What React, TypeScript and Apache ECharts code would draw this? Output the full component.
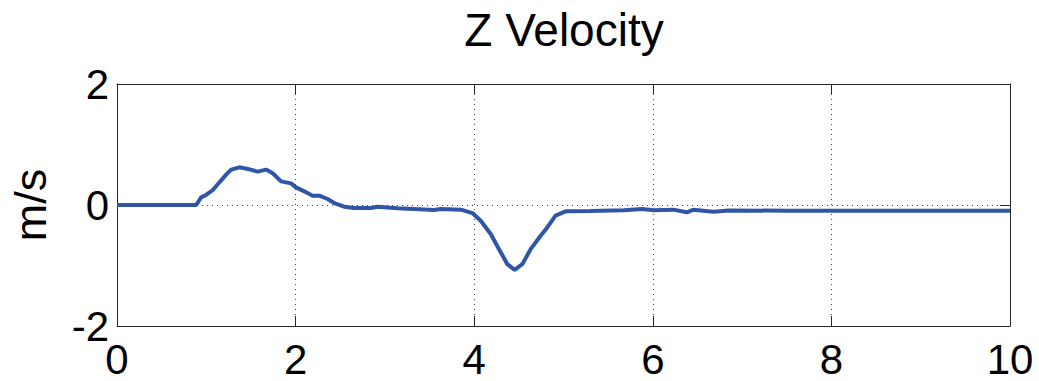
import React, { useEffect, useRef } from "react";
import * as echarts from "echarts";

const titleText = "Z Velocity";
const yAxisLabel = "m/s";
const xTicks = [0, 2, 4, 6, 8, 10];
const yTicks = [-2, 0, 2];

const timeS = [
  0, 0.887, 0.942, 0.998, 1.073, 1.147, 1.222, 1.278, 1.371, 1.464, 1.576, 1.669,
  1.744, 1.837, 1.949, 2.005, 2.097, 2.19, 2.265, 2.358, 2.432, 2.544, 2.656, 2.843,
  2.918, 3.141, 3.327, 3.55, 3.627, 3.85, 3.98, 4.073, 4.185, 4.278, 4.371, 4.453,
  4.539, 4.632, 4.744, 4.818, 4.911, 5.023, 5.302, 5.675, 5.88, 6.01, 6.23, 6.38,
  6.45, 6.68, 6.85, 7.5, 9.5, 10,
];
const velocity = [
  0, 0, 0.126, 0.166, 0.248, 0.375, 0.502, 0.585, 0.623, 0.596, 0.552, 0.585,
  0.524, 0.391, 0.358, 0.292, 0.226, 0.154, 0.154, 0.099, 0.033, -0.028, -0.05, -0.05,
  -0.028, -0.055, -0.066, -0.083, -0.066, -0.077, -0.133, -0.26, -0.48, -0.73, -0.978, -1.072,
  -0.978, -0.73, -0.509, -0.371, -0.177, -0.105, -0.099, -0.088, -0.066, -0.088, -0.077, -0.12,
  -0.08, -0.11, -0.09, -0.095, -0.095, -0.095,
];

const FONT = "Liberation Sans, Arial, Helvetica, sans-serif";

export default function App() {
  const ref = useRef<HTMLDivElement>(null);
  useEffect(() => {
    document.body.style.margin = "0";
    const chart = echarts.init(ref.current!, null, { renderer: "svg" });
    const data = timeS.map((t, i) => [t, velocity[i]]);
    const axisLineStyle = { color: "#262626", width: 1 };
    const tick = { show: true, inside: true, length: 10, lineStyle: axisLineStyle };
    const split = {
      show: true,
      showMinLine: false,
      showMaxLine: false,
      lineStyle: { color: "#444", width: 1, type: [1, 4] as any },
    };
    chart.setOption({
      animation: false,
      backgroundColor: "#fff",
      title: {
        text: titleText,
        left: 559,
        top: 2,
        textAlign: "center",
        textStyle: { fontFamily: FONT, fontSize: 46, fontWeight: "normal", color: "#000" },
      },
      grid: { left: 116, right: 29, top: 84, bottom: 55, show: false },
      xAxis: [
        {
          type: "value",
          min: 0,
          max: 10,
          interval: 2,
          position: "bottom",
          axisLine: { show: true, onZero: false, lineStyle: axisLineStyle },
          axisTick: tick,
          axisLabel: {
            show: true,
            margin: 12,
            fontFamily: FONT,
            fontSize: 42,
            color: "#000",
            formatter: (v: number) => (xTicks.includes(v) ? String(v) : ""),
          },
          splitLine: split,
        },
        {
          type: "value",
          min: 0,
          max: 10,
          interval: 2,
          position: "top",
          axisLine: { show: true, onZero: false, lineStyle: axisLineStyle },
          axisTick: tick,
          axisLabel: { show: false },
          splitLine: { show: false },
        },
      ],
      yAxis: [
        {
          type: "value",
          min: -2,
          max: 2,
          interval: 2,
          position: "left",
          name: yAxisLabel,
          nameLocation: "middle",
          nameGap: 64,
          nameTextStyle: { fontFamily: FONT, fontSize: 45, color: "#000" },
          axisLine: { show: true, onZero: false, lineStyle: axisLineStyle },
          axisTick: tick,
          axisLabel: {
            show: true,
            margin: 8,
            fontFamily: FONT,
            fontSize: 42,
            color: "#000",
            formatter: (v: number) => (yTicks.includes(v) ? String(v) : ""),
          },
          splitLine: split,
        },
        {
          type: "value",
          min: -2,
          max: 2,
          interval: 2,
          position: "right",
          axisLine: { show: true, onZero: false, lineStyle: axisLineStyle },
          axisTick: tick,
          axisLabel: { show: false },
          splitLine: { show: false },
        },
      ],
      series: [
        {
          type: "line",
          data,
          xAxisIndex: 0,
          yAxisIndex: 0,
          showSymbol: false,
          symbol: "none",
          smooth: false,
          lineStyle: { color: "#2f55a6", width: 4 },
        },
      ],
    });
    return () => chart.dispose();
  }, []);
  return <div ref={ref} style={{ width: 1039, height: 381 }} />;
}
